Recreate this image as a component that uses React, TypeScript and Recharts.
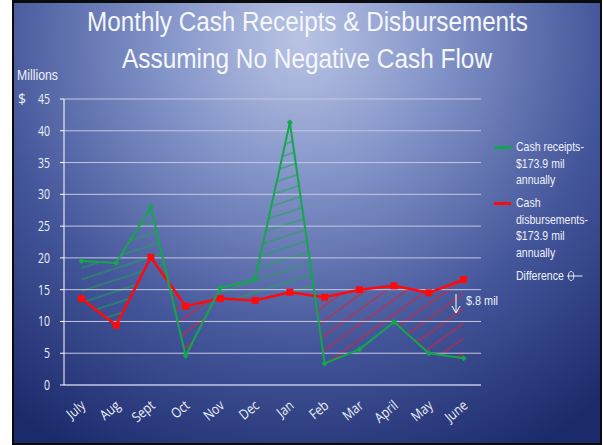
import { useEffect, useRef, useState } from "react";
import {
  ComposedChart,
  Line,
  Area,
  XAxis,
  YAxis,
  CartesianGrid,
  Legend,
} from "recharts";

// Data (millions of dollars)
const months = ["July", "Aug", "Sept", "Oct", "Nov", "Dec", "Jan", "Feb", "Mar", "April", "May", "June"];
const receipts = [19.5, 19.2, 28.0, 4.6, 15.3, 16.7, 41.3, 3.4, 5.6, 9.9, 5.0, 4.2];
const disbursements = [13.6, 9.4, 20.1, 12.4, 13.6, 13.3, 14.6, 13.8, 15.0, 15.6, 14.5, 16.6];
const yTicks = [0, 5, 10, 15, 20, 25, 30, 35, 40, 45];

const titleLines = ["Monthly Cash Receipts & Disbursements", "Assuming No Negative Cash Flow"];
const receiptsName = ["Cash receipts-", "$173.9 mil", "annually"];
const disbursementsName = ["Cash", "disbursements-", "$173.9 mil", "annually"];
const differenceName = "Difference";
const gapNote = "$.8 mil";

const data = months.map((m, i) => ({ month: m, rec: receipts[i], dis: disbursements[i] }));

const W = 604;
const H = 445;
const GREEN = "#12a84a";
const RED = "#ff0a0a";
const TEXT = "#eef0f8";
const GRID = "#c3c8de";
const NARROW = "'Liberation Sans Narrow', 'Arial Narrow', 'Liberation Sans', Arial, sans-serif";
const SANS = "'Open Sans', Calibri, sans-serif";

// hidden areas, only used to clip the hatching between the two lines
const CLIP_AREAS = [
  { key: "recBelow", dataKey: "rec", base: 0 },
  { key: "recAbove", dataKey: "rec", base: 45 },
  { key: "disBelow", dataKey: "dis", base: 0 },
  { key: "disAbove", dataKey: "dis", base: 45 },
];

function YTick({ x, y, payload }: any) {
  return (
    <g>
      <text
        transform={`translate(${x - 8},${y + 5}) scale(0.75,1)`}
        textAnchor="end"
        fill={TEXT}
        fontSize={14}
        fontFamily={SANS}
      >
        {payload.value}
      </text>
      {payload.value === 45 && (
        <text x={x - 40} y={y + 5} fill={TEXT} fontSize={14} fontFamily={SANS}>
          $
        </text>
      )}
    </g>
  );
}

function XTick({ x, y, payload }: any) {
  return (
    <text
      transform={`translate(${x + 5},${y + 14}) rotate(-40) scale(0.85,1)`}
      textAnchor="end"
      fill={TEXT}
      fontSize={14}
      fontFamily={SANS}
    >
      {payload.value}
    </text>
  );
}

function Diamond({ cx, cy }: any) {
  if (cx == null || cy == null) return null;
  const r = 3;
  return <polygon points={`${cx},${cy - r} ${cx + r},${cy} ${cx},${cy + r} ${cx - r},${cy}`} fill={GREEN} />;
}

function Square({ cx, cy }: any) {
  if (cx == null || cy == null) return null;
  return <rect x={cx - 3.5} y={cy - 3.5} width={7} height={7} fill={RED} />;
}

function LegendBox() {
  const lineH = 16.5;
  const textStyle = {
    height: lineH,
    lineHeight: `${lineH}px`,
    whiteSpace: "nowrap" as const,
    transform: "scaleX(0.81)",
    transformOrigin: "left center",
  };
  const item = (color: string, lines: string[]) => (
    <div style={{ position: "relative", paddingLeft: 22, marginBottom: 6.5 }}>
      <span
        style={{ position: "absolute", left: 0, top: 7, width: 17, height: 2.5, background: color }}
      />
      {lines.map((l) => (
        <div key={l} style={textStyle}>
          {l}
        </div>
      ))}
    </div>
  );
  return (
    <div style={{ fontFamily: NARROW, fontSize: 13, color: TEXT, width: 105 }}>
      {item(GREEN, receiptsName)}
      {item(RED, disbursementsName)}
      <div style={{ paddingLeft: 22 }}>
        <div style={textStyle}>
          {differenceName}{" "}
          <svg width={20} height={12} style={{ verticalAlign: "middle" }}>
            <ellipse cx={5} cy={6} rx={3.2} ry={4.5} fill="none" stroke={TEXT} strokeWidth={1} />
            <line x1={0} y1={6} x2={19} y2={6} stroke={TEXT} strokeWidth={1.2} />
          </svg>
        </div>
      </div>
    </div>
  );
}

export default function App() {
  const wrapRef = useRef<HTMLDivElement>(null);
  const [clips, setClips] = useState<Record<string, string> | null>(null);

  useEffect(() => {
    let raf = 0;
    let tries = 0;
    const read = () => {
      const root = wrapRef.current;
      const out: Record<string, string> = {};
      let ok = !!root;
      CLIP_AREAS.forEach((a) => {
        const d = root?.querySelector(`.clip-${a.key} .recharts-area-area`)?.getAttribute("d") ?? "";
        if (!d) ok = false;
        out[a.key] = d;
      });
      if (ok) setClips(out);
      else if (tries++ < 200) raf = requestAnimationFrame(read);
    };
    raf = requestAnimationFrame(read);
    return () => cancelAnimationFrame(raf);
  }, []);

  return (
    <div style={{ position: "absolute", left: 0, top: 0, width: W, height: H, background: "#fff" }}>
      {/* background, title, hatching */}
      <svg width={W} height={H} style={{ position: "absolute", left: 0, top: 0 }}>
        <defs>
          <radialGradient id="bg" gradientUnits="userSpaceOnUse" cx={300} cy={40} r={470}>
            <stop offset="0" stopColor="#b9c4e4" />
            <stop offset="0.3" stopColor="#8293c8" />
            <stop offset="0.65" stopColor="#44569a" />
            <stop offset="1" stopColor="#1b2a6b" />
          </radialGradient>
          <pattern id="hatchG" width={10} height={11} patternUnits="userSpaceOnUse" patternTransform="rotate(-18)">
            <line x1={0} y1={5} x2={10} y2={5} stroke="#1da552" strokeWidth={1} />
          </pattern>
          <pattern id="hatchR" width={10} height={12} patternUnits="userSpaceOnUse" patternTransform="rotate(-36)">
            <line x1={0} y1={6} x2={10} y2={6} stroke="#e0202c" strokeWidth={1} />
          </pattern>
          {clips &&
            CLIP_AREAS.map((a) => (
              <clipPath id={`cp-${a.key}`} key={a.key}>
                <path d={clips[a.key]} />
              </clipPath>
            ))}
        </defs>
        <rect x={12} y={0} width={590} height={H} fill="#0b0b0b" />
        <rect x={14} y={3} width={586} height={440} fill="url(#bg)" />
        {titleLines.map((t, i) => (
          <text
            key={t}
            x={i === 0 ? 87 : 122}
            y={i === 0 ? 31 : 68}
            textLength={i === 0 ? 441 : 370}
            lengthAdjust="spacingAndGlyphs"
            fill="#f5f7fc"
            fontSize={27}
            fontFamily={NARROW}
          >
            {t}
          </text>
        ))}
        <text x={17} y={80} textLength={41} lengthAdjust="spacingAndGlyphs" fill={TEXT} fontSize={14} fontFamily={NARROW}>
          Millions
        </text>
        {clips && (
          <>
            <g clipPath="url(#cp-recBelow)">
              <rect width={W} height={H} fill="url(#hatchG)" clipPath="url(#cp-disAbove)" />
            </g>
            <g clipPath="url(#cp-recAbove)">
              <rect width={W} height={H} fill="url(#hatchR)" clipPath="url(#cp-disBelow)" />
            </g>
          </>
        )}
        {/* gap annotation */}
        <line x1={456} y1={294} x2={456} y2={312} stroke="#fff" strokeWidth={1} />
        <polyline points="452,306 456,313 460,306" fill="none" stroke="#fff" strokeWidth={1} />
        <text x={466} y={305} textLength={32} lengthAdjust="spacingAndGlyphs" fill={TEXT} fontSize={13} fontFamily={NARROW}>
          {gapNote}
        </text>
      </svg>

      <div ref={wrapRef} style={{ position: "absolute", left: 0, top: 0 }}>
        <ComposedChart width={W} height={H} data={data} margin={{ top: 99, right: 123, bottom: 0, left: 0 }}>
          <CartesianGrid vertical={false} stroke={GRID} strokeWidth={1} />
          <XAxis
            dataKey="month"
            scale="band"
            height={60}
            interval={0}
            tick={<XTick />}
            tickLine={false}
            axisLine={{ stroke: GRID }}
          />
          <YAxis
            width={64}
            domain={[0, 45]}
            ticks={yTicks}
            interval={0}
            tick={<YTick />}
            tickSize={4}
            tickLine={{ stroke: "#fff" }}
            axisLine={{ stroke: "#fff" }}
          />
          {CLIP_AREAS.map((a) => (
            <Area
              key={a.key}
              className={`clip-${a.key}`}
              dataKey={a.dataKey}
              baseValue={a.base}
              type="linear"
              fill="none"
              fillOpacity={0}
              stroke="none"
              legendType="none"
              dot={false}
              activeDot={false}
              isAnimationActive={false}
            />
          ))}
          <Line
            dataKey="dis"
            type="linear"
            stroke={RED}
            strokeWidth={2.5}
            dot={<Square />}
            activeDot={false}
            isAnimationActive={false}
          />
          <Line
            dataKey="rec"
            type="linear"
            stroke={GREEN}
            strokeWidth={2}
            dot={<Diamond />}
            activeDot={false}
            isAnimationActive={false}
          />
          <Legend
            layout="vertical"
            align="center"
            verticalAlign="middle"
            content={<LegendBox />}
            wrapperStyle={{ position: "absolute", left: 494, top: 139, width: 110 }}
          />
        </ComposedChart>
      </div>
    </div>
  );
}
